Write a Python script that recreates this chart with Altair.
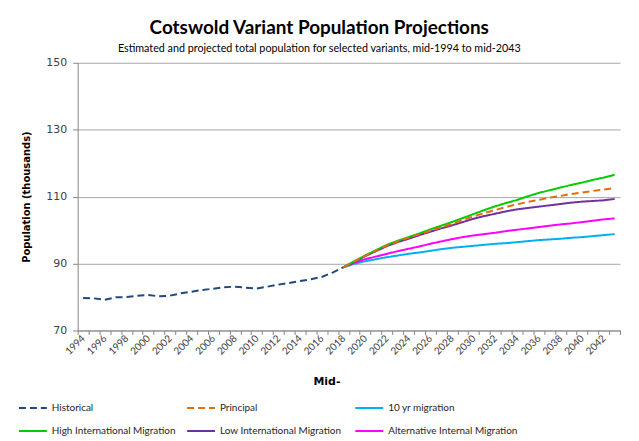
import altair as alt
import pandas as pd

# ---- data ----
hist_years = list(range(1994, 2019))
historical = [79.7, 79.6, 79.2, 79.9, 80.0, 80.4, 80.6, 80.2, 80.4, 81.1,
              81.6, 82.1, 82.5, 82.9, 83.1, 82.8, 82.5, 83.1, 83.7, 84.2,
              84.8, 85.3, 86.0, 87.3, 88.9]

proj_years = list(range(2018, 2044))
principal = [88.9, 90.6, 92.3, 93.9, 95.4, 96.6, 97.7, 98.8, 99.8, 100.8,
             101.8, 103.0, 104.1, 105.1, 106.0, 106.9, 107.7, 108.4, 109.0, 109.7,
             110.2, 110.8, 111.2, 111.7, 112.1, 112.6]
ten_yr = [88.9, 89.9, 90.7, 91.3, 91.9, 92.4, 92.9, 93.3, 93.8, 94.3,
          94.7, 95.0, 95.3, 95.6, 95.9, 96.1, 96.4, 96.7, 97.0, 97.2,
          97.4, 97.7, 97.9, 98.2, 98.5, 98.8]
high_intl = [88.9, 90.7, 92.4, 94.0, 95.6, 96.8, 97.9, 99.0, 100.2, 101.3,
             102.4, 103.6, 104.8, 106.0, 107.1, 108.1, 109.0, 110.1, 111.1, 111.9,
             112.7, 113.5, 114.2, 115.0, 115.7, 116.5]
low_intl = [88.9, 90.5, 92.2, 93.7, 95.2, 96.4, 97.4, 98.5, 99.5, 100.5,
            101.4, 102.4, 103.4, 104.2, 104.9, 105.6, 106.2, 106.6, 107.0, 107.4,
            107.8, 108.2, 108.5, 108.7, 108.9, 109.3]
alt_internal = [88.9, 90.2, 91.3, 92.1, 92.9, 93.7, 94.4, 95.1, 95.9, 96.6,
                97.3, 97.9, 98.4, 98.8, 99.2, 99.7, 100.1, 100.5, 100.9, 101.3,
                101.7, 102.0, 102.4, 102.8, 103.2, 103.5]

# legend is filled column by column (2 rows x 3 columns)
series_names = ["Historical", "High International Migration",
                "Principal", "Low International Migration",
                "10 yr migration", "Alternative Internal Migration"]
series_colors = ["#1F497D", "#00CC00", "#E46C0A", "#7030A0", "#00B0F0", "#FF00FF"]
series_dashes = [[7, 4], [1, 0], [7, 4], [1, 0], [1, 0], [1, 0]]

y_ticks = [70, 90, 110, 130, 150]

rows = []
for yr, v in zip(hist_years, historical):
    rows.append({"year": yr, "value": v, "series": "Historical"})
for name, vals in [("10 yr migration", ten_yr),
                   ("Alternative Internal Migration", alt_internal),
                   ("Low International Migration", low_intl),
                   ("High International Migration", high_intl),
                   ("Principal", principal)]:
    for yr, v in zip(proj_years, vals):
        rows.append({"year": yr, "value": v, "series": name})
df = pd.DataFrame(rows)

legend_kw = dict(
    title=None, orient="none", legendX=-60, legendY=332, columns=3,
    symbolType="stroke", symbolSize=784, symbolStrokeWidth=2,
    labelFont="Lato", labelFontSize=10, labelColor="#262626",
    gridAlign="all", columnPadding=2, rowPadding=3, labelLimit=300,
    labelOffset=4,
)

chart = alt.Chart(df).mark_line(strokeWidth=2).encode(
    x=alt.X(
        "year:O",
        scale=alt.Scale(type="band", paddingInner=0, paddingOuter=0),
        bandPosition=0.5,
        axis=alt.Axis(
            title="Mid-",
            labelExpr="datum.value % 2 == 0 ? datum.label : ''",
            labelAngle=-45, labelAlign="right", labelBaseline="middle",
            labelOverlap=False, labelPadding=2,
            labelFont="Lato", labelFontSize=10, labelColor="#404040",
            tickBand="extent", tickSize=4, tickColor="#868686",
            domainColor="#868686", grid=False,
            titleFont="DejaVu Sans", titleFontSize=11, titleFontWeight="bold",
            titleColor="#000000", titleX=250, titlePadding=19,
        ),
    ),
    y=alt.Y(
        "value:Q",
        scale=alt.Scale(domain=[70, 150], nice=False, zero=False),
        axis=alt.Axis(
            title="Population  (thousands)",
            values=y_ticks,
            labelFont="DejaVu Sans", labelFontSize=11, labelColor="#404040",
            labelPadding=6,
            tickSize=5, tickColor="#868686", domainColor="#868686",
            gridColor="#A6A6A6", gridWidth=1,
            titleFont="DejaVu Sans", titleFontSize=10, titleFontWeight="bold",
            titleColor="#000000", titlePadding=14,
        ),
    ),
    color=alt.Color("series:N",
                    scale=alt.Scale(domain=series_names, range=series_colors),
                    legend=alt.Legend(**legend_kw)),
    strokeDash=alt.StrokeDash("series:N",
                              scale=alt.Scale(domain=series_names, range=series_dashes),
                              legend=alt.Legend(**legend_kw)),
).properties(
    width=545, height=269,
    padding={"left": 10, "top": 10, "right": 10, "bottom": 0},
    title=alt.Title(
        "Cotswold Variant Population Projections",
        subtitle="Estimated and projected total population for selected variants, mid-1994 to mid-2043",
        font="Lato", fontSize=19, fontWeight="bold", color="#000000",
        subtitleFont="Lato", subtitleFontSize=10.8, subtitleColor="#000000",
        subtitlePadding=5, anchor="middle", offset=3, frame="bounds",
    ),
).configure_view(strokeWidth=0)

chart.save("out.html", embed_options={"renderer": "svg", "actions": False})
